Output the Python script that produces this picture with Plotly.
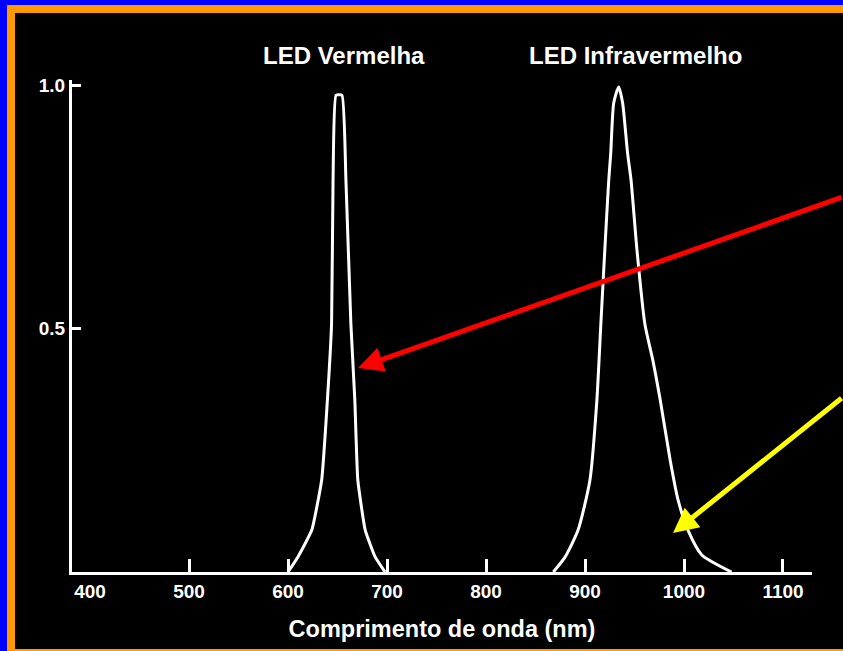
import plotly.graph_objects as go

# Emission spectra of the two LEDs (wavelength in nm, normalised intensity)
red_nm = [600, 610, 624, 634, 640, 644, 645.5, 648.5, 654.5, 658.5, 663.5, 667.5, 670.5, 678, 688, 698]
red_val = [0.0, 0.031, 0.086, 0.189, 0.36, 0.51, 0.805, 0.979, 0.979, 0.805, 0.51, 0.353, 0.189, 0.086, 0.031, 0.0]

ir_nm = [868, 880, 893, 905, 912, 916, 920, 924, 926, 929, 934, 938, 943, 946.5, 952.5, 960.5,
         968.5, 976, 986, 994, 1004, 1018, 1048]
ir_val = [0.0, 0.031, 0.086, 0.189, 0.353, 0.509, 0.661, 0.805, 0.86, 0.963, 0.996, 0.963, 0.86,
          0.805, 0.661, 0.509, 0.435, 0.353, 0.23, 0.148, 0.086, 0.035, 0.0]

x_label_vals = [400, 500, 600, 700, 800, 900, 1000, 1100]
x_tick_vals = [500, 600, 700, 800, 900, 1000, 1100]
y_tick_vals = [0.5, 1.0]
y_tick_text = ["0.5", "1.0"]

peak_labels = ["LED Vermelha", "LED Infravermelho"]
x_title = "Comprimento de onda (nm)"

W, H = 843, 651
ML, MR, MT, MB = 72, 31, 80, 79
PW, PH = W - ML - MR, H - MT - MB
X_RANGE = [381.8, 1129.3]
Y_RANGE = [0.0, 1.0103]


def px(xp):
    return (xp - ML) / PW


def py(yp):
    return (H - MB - yp) / PH


FONT = "Liberation Sans"
WHITE = "#ffffff"

fig = go.Figure()
fig.add_trace(go.Scatter(x=red_nm, y=red_val, mode="lines",
                         line=dict(color=WHITE, width=3, shape="spline", smoothing=0.4),
                         hoverinfo="skip"))
fig.add_trace(go.Scatter(x=ir_nm, y=ir_val, mode="lines", xaxis="x2",
                         line=dict(color=WHITE, width=3, shape="spline", smoothing=0.6),
                         hoverinfo="skip"))

# frame: blue outer edge, orange band, black panel
shapes = [
    dict(type="rect", xref="paper", yref="paper", x0=px(7), x1=px(860), y0=py(670), y1=py(5),
         fillcolor="#ff9900", line=dict(width=0), layer="below"),
    dict(type="rect", xref="paper", yref="paper", x0=px(15), x1=px(860), y0=py(649), y1=py(13),
         fillcolor="#000000", line=dict(width=0), layer="below"),
]

annotations = [
    dict(text=peak_labels[0], xref="paper", yref="paper", x=px(344), y=py(56),
         xanchor="center", yanchor="middle", showarrow=False,
         font=dict(family=FONT, size=24, color=WHITE, weight="bold")),
    dict(text=peak_labels[1], xref="paper", yref="paper", x=px(635.5), y=py(56),
         xanchor="center", yanchor="middle", showarrow=False,
         font=dict(family=FONT, size=24, color=WHITE, weight="bold")),
    # pointer arrows
    dict(text="", x=670.7, y=0.419, xref="x", yref="y", ax=487, ay=-171,
         showarrow=True, arrowhead=2, arrowsize=1, arrowwidth=5, arrowcolor="#ff0000", standoff=0),
    dict(text="", x=988.9, y=0.080, xref="x", yref="y", ax=172, ay=-136,
         showarrow=True, arrowhead=2, arrowsize=1, arrowwidth=5, arrowcolor="#ffff00", standoff=0),
]

fig.update_layout(
    width=W, height=H,
    margin=dict(l=ML, r=MR, t=MT, b=MB, pad=0),
    paper_bgcolor="#0000ff",
    plot_bgcolor="rgba(0,0,0,0)",
    showlegend=False,
    shapes=shapes,
    annotations=annotations,
    xaxis=dict(range=X_RANGE, tickmode="array", tickvals=x_label_vals,
               ticktext=[str(v) for v in x_label_vals], ticks="",
               showline=True, linecolor=WHITE, linewidth=3, showgrid=False, zeroline=False,
               tickfont=dict(family=FONT, size=19, color=WHITE, weight="bold"),
               title=dict(text=x_title, standoff=20,
                          font=dict(family=FONT, size=23.5, color=WHITE, weight="bold"))),
    xaxis2=dict(range=X_RANGE, overlaying="x", side="bottom", anchor="y",
                tickmode="array", tickvals=x_tick_vals, ticks="inside", ticklen=13,
                tickwidth=2.5, tickcolor=WHITE, showticklabels=False, showline=False,
                showgrid=False, zeroline=False),
    yaxis=dict(range=Y_RANGE, tickmode="array", tickvals=y_tick_vals, ticktext=y_tick_text,
               ticks="inside", ticklen=9, tickwidth=2.5, tickcolor=WHITE,
               showline=True, linecolor=WHITE, linewidth=3, showgrid=False, zeroline=False,
               tickfont=dict(family=FONT, size=19, color=WHITE, weight="bold")),
)

fig.write_html("out.html")
